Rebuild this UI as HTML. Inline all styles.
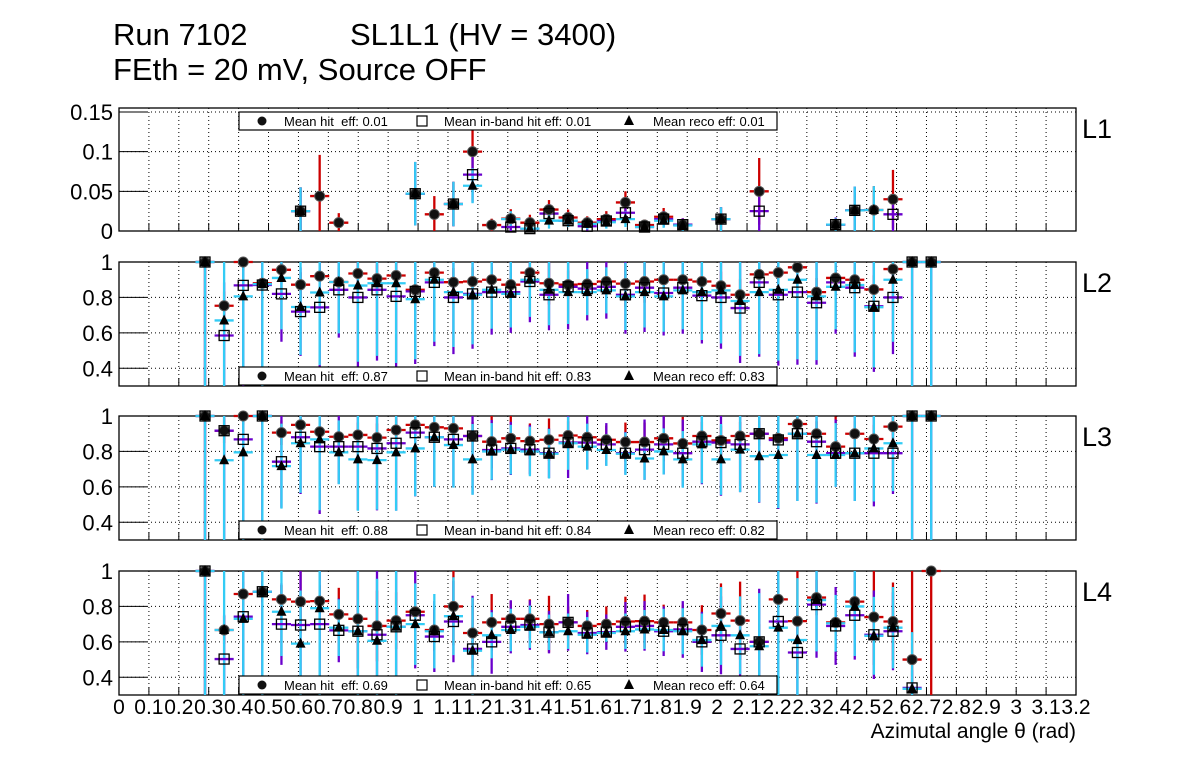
<!DOCTYPE html>
<html><head><meta charset="utf-8"><style>
html,body{margin:0;padding:0;background:#fff;}
svg{display:block;font-family:"Liberation Sans",sans-serif;}
</style></head><body>
<svg id="chart" width="1196" height="772" viewBox="0 0 1196 772" xmlns="http://www.w3.org/2000/svg">
<rect x="0" y="0" width="1196" height="772" fill="#fff"/>
<text x="113" y="45" font-size="31">Run 7102</text>
<text x="350" y="45" font-size="31">SL1L1 (HV = 3400)</text>
<text x="113" y="80" font-size="31">FEth = 20 mV, Source OFF</text>
<text x="1076" y="738" font-size="21" text-anchor="end">Azimutal angle θ (rad)</text>
</svg>
<script>
// bins (categories): first bin centre and bin width in rad
const firstCenter = 0.2876;
const binWidth = 0.0639;
const xTicks = ["0","0.1","0.2","0.3","0.4","0.5","0.6","0.7","0.8","0.9","1","1.1","1.2","1.3","1.4","1.5","1.6","1.7","1.8","1.9","2","2.1","2.2","2.3","2.4","2.5","2.6","2.7","2.8","2.9","3","3.1","3.2"];
const N = null;
// ---- L1 ----
const l1Hit   = [N,N,N,N,N,0.025,0.044,0.0105,N,N,N,0.047,0.021,0.034,0.1,0.0075,0.0155,0.0105,0.027,0.017,0.0105,0.015,0.036,0.0075,0.018,0.008,N,0.015,N,0.05,N,N,N,0.008,0.026,0.0265,0.04,N,N];
const l1HitErr= [N,N,N,N,N,0.03,0.052,0.012,N,N,N,0.04,0.023,0.028,0.03,0.008,0.012,0.01,0.012,0.01,0.008,0.01,0.014,0.007,0.011,0.008,N,0.015,N,0.042,N,N,N,0.008,0.03,0.03,0.037,N,N];
const l1Ib    = [N,N,N,N,N,0.025,N,N,N,N,N,0.047,N,0.034,0.071,N,0.005,0.003,0.022,0.013,0.006,0.0126,0.023,0.005,0.015,0.008,N,0.015,N,0.025,N,N,N,0.008,0.026,N,0.021,N,N];
const l1IbErr = [N,N,N,N,N,0.03,N,N,N,N,N,0.04,N,0.028,0.035,N,0.008,0.005,0.012,0.008,0.006,0.008,0.012,0.005,0.01,0.008,N,0.015,N,0.03,N,N,N,0.009,0.03,N,0.022,N,N];
const l1Reco  = [N,N,N,N,N,0.025,N,N,N,N,N,0.047,N,0.034,0.057,N,0.015,0.003,0.013,0.013,0.009,0.011,0.015,0.005,0.013,0.007,N,0.015,N,N,N,N,N,0.008,0.026,0.0265,N,N,N];
const l1RecoErr=[N,N,N,N,N,0.03,N,N,N,N,N,0.04,N,0.028,0.022,N,0.01,0.006,0.01,0.008,0.007,0.008,0.01,0.006,0.009,0.007,N,0.015,N,N,N,N,N,0.008,0.03,0.03,N,N,N];
// ---- L2 ----
const l2Hit   = [1,0.753,1,0.88,0.956,0.872,0.92,0.887,0.935,0.906,0.924,0.843,0.94,0.886,0.89,0.9,0.872,0.94,0.88,0.872,0.876,0.89,0.878,0.89,0.9,0.9,0.89,0.866,0.815,0.93,0.94,0.97,0.83,0.91,0.9,0.845,0.96,1,1];
const l2HitErr= [0.7,0.08,0.05,0.06,0.05,0.07,0.07,0.08,0.07,0.08,0.07,0.09,0.06,0.08,0.08,0.07,0.07,0.06,0.12,0.08,0.07,0.07,0.13,0.12,0.12,0.07,0.08,0.08,0.09,0.07,0.06,0.03,0.08,0.07,0.07,0.08,0.04,0.02,0.02];
const l2Ib    = [1,0.585,0.868,0.87,0.82,0.72,0.744,0.843,0.8,0.843,0.806,0.834,0.885,0.8,0.82,0.83,0.83,0.89,0.815,0.86,0.85,0.86,0.815,0.855,0.825,0.855,0.81,0.8,0.74,0.885,0.815,0.83,0.77,0.885,0.855,0.75,0.8,1,1];
const l2IbErr = [0.7,0.3,0.6,0.6,0.27,0.25,0.37,0.27,0.41,0.4,0.41,0.41,0.36,0.32,0.31,0.24,0.23,0.23,0.2,0.24,0.18,0.18,0.22,0.25,0.24,0.26,0.27,0.29,0.31,0.42,0.4,0.41,0.35,0.29,0.39,0.37,0.32,0.7,0.7];
const l2Reco  = [1,0.67,0.806,0.875,0.91,0.746,0.828,0.887,0.867,0.88,0.88,0.79,0.9,0.83,0.815,0.843,0.82,0.9,0.843,0.83,0.83,0.84,0.806,0.83,0.806,0.84,0.83,0.84,0.78,0.83,0.843,0.9,0.806,0.86,0.87,0.745,0.9,1,1];
const l2RecoErr=[0.7,0.37,0.5,0.58,0.29,0.27,0.41,0.29,0.43,0.41,0.45,0.34,0.35,0.31,0.28,0.22,0.19,0.21,0.2,0.18,0.13,0.13,0.19,0.2,0.2,0.22,0.27,0.3,0.31,0.35,0.4,0.45,0.36,0.24,0.38,0.34,0.35,0.7,0.7];
// ---- L3 ----
const l3Hit   = [1,0.917,1,1,0.906,0.95,0.911,0.883,0.893,0.878,0.921,0.95,0.936,0.93,0.887,0.855,0.874,0.858,0.866,0.89,0.88,0.866,0.853,0.853,0.874,0.845,0.887,0.862,0.887,0.9,0.874,0.955,0.9,0.827,0.9,0.87,0.94,1,1];
const l3HitErr= [0.7,0.07,0.05,0.05,0.07,0.06,0.07,0.08,0.07,0.08,0.07,0.05,0.06,0.06,0.08,0.15,0.13,0.1,0.12,0.08,0.08,0.08,0.11,0.11,0.13,0.15,0.08,0.08,0.08,0.07,0.08,0.04,0.07,0.17,0.07,0.08,0.05,0.02,0.02];
const l3Ib    = [1,0.917,0.868,1,0.742,0.88,0.827,0.827,0.827,0.817,0.846,0.906,0.88,0.868,0.887,0.808,0.817,0.81,0.79,0.85,0.85,0.84,0.79,0.81,0.84,0.79,0.855,0.85,0.84,0.9,0.865,0.9,0.855,0.79,0.79,0.79,0.79,1,1];
const l3IbErr = [0.7,0.62,0.57,0.7,0.26,0.32,0.38,0.21,0.36,0.35,0.38,0.36,0.28,0.27,0.33,0.17,0.15,0.14,0.14,0.2,0.15,0.12,0.12,0.17,0.17,0.19,0.24,0.3,0.27,0.39,0.39,0.38,0.35,0.19,0.27,0.3,0.23,0.7,0.7];
const l3Reco  = [1,0.75,0.795,1,0.717,0.846,0.868,0.795,0.755,0.751,0.795,0.817,0.88,0.836,0.755,0.8,0.81,0.8,0.787,0.846,0.827,0.808,0.787,0.76,0.8,0.755,0.84,0.755,0.81,0.773,0.78,0.9,0.78,0.78,0.79,0.817,0.846,1,1];
const l3RecoErr=[0.7,0.45,0.5,0.7,0.24,0.28,0.4,0.18,0.29,0.28,0.33,0.27,0.28,0.24,0.2,0.16,0.14,0.14,0.14,0.15,0.13,0.09,0.12,0.12,0.13,0.16,0.22,0.2,0.24,0.26,0.3,0.38,0.27,0.18,0.27,0.3,0.27,0.7,0.7];
// ---- L4 ----
const l4Hit   = [1,0.667,0.87,0.883,0.84,0.827,0.83,0.755,0.73,0.69,0.72,0.77,0.667,0.8,0.65,0.71,0.73,0.73,0.7,0.71,0.69,0.7,0.715,0.717,0.71,0.71,0.667,0.76,0.72,0.6,0.84,0.717,0.85,0.71,0.827,0.74,0.715,0.5,1];
const l4HitErr= [0.7,0.08,0.07,0.06,0.08,0.18,0.09,0.15,0.28,0.2,0.16,0.11,0.12,0.22,0.2,0.16,0.1,0.11,0.16,0.09,0.09,0.1,0.14,0.15,0.1,0.1,0.14,0.17,0.22,0.1,0.2,0.3,0.1,0.08,0.12,0.27,0.22,0.5,0.7];
const l4Ib    = [1,0.503,0.742,0.883,0.7,0.695,0.7,0.665,0.66,0.64,0.685,0.75,0.63,0.715,0.56,0.6,0.685,0.695,0.655,0.71,0.65,0.655,0.685,0.69,0.66,0.67,0.6,0.637,0.56,0.6,0.715,0.54,0.81,0.69,0.75,0.64,0.66,0.34,N];
const l4IbErr = [0.7,0.25,0.45,0.6,0.23,0.4,0.4,0.18,0.4,0.4,0.4,0.3,0.2,0.23,0.3,0.18,0.15,0.14,0.12,0.16,0.12,0.1,0.14,0.14,0.14,0.16,0.17,0.22,0.16,0.3,0.4,0.25,0.3,0.22,0.25,0.25,0.22,0.1,N];
const l4Reco  = [1,0.667,0.73,0.883,0.77,0.59,0.79,0.68,0.66,0.606,0.685,0.7,0.66,0.745,0.55,0.637,0.667,0.685,0.654,0.66,0.64,0.65,0.66,0.67,0.667,0.66,0.61,0.69,0.637,0.575,0.68,0.61,0.836,0.705,0.8,0.634,0.68,0.335,N];
const l4RecoErr=[0.7,0.4,0.45,0.6,0.25,0.3,0.5,0.16,0.4,0.35,0.4,0.23,0.21,0.22,0.3,0.13,0.12,0.12,0.1,0.1,0.1,0.05,0.1,0.11,0.12,0.13,0.15,0.22,0.22,0.3,0.4,0.35,0.29,0.16,0.28,0.22,0.23,0.32,N];

const legendHit  = ["0.01","0.87","0.88","0.69"];
const legendIb   = ["0.01","0.83","0.84","0.65"];
const legendReco = ["0.01","0.83","0.82","0.64"];

const panels = [
 {name:"L1", top:108, bottom:231, ymin:0, ymax:0.155, ticks:[0,0.05,0.1,0.15], labels:["0","0.05","0.1","0.15"], legY:112, hit:l1Hit, hitE:l1HitErr, ib:l1Ib, ibE:l1IbErr, reco:l1Reco, recoE:l1RecoErr},
 {name:"L2", top:262, bottom:386, ymin:0.3, ymax:1.0, ticks:[0.4,0.6,0.8,1], labels:["0.4","0.6","0.8","1"], legY:367, hit:l2Hit, hitE:l2HitErr, ib:l2Ib, ibE:l2IbErr, reco:l2Reco, recoE:l2RecoErr},
 {name:"L3", top:416, bottom:540, ymin:0.3, ymax:1.0, ticks:[0.4,0.6,0.8,1], labels:["0.4","0.6","0.8","1"], legY:521, hit:l3Hit, hitE:l3HitErr, ib:l3Ib, ibE:l3IbErr, reco:l3Reco, recoE:l3RecoErr},
 {name:"L4", top:571, bottom:695, ymin:0.3, ymax:1.0, ticks:[0.4,0.6,0.8,1], labels:["0.4","0.6","0.8","1"], legY:676, hit:l4Hit, hitE:l4HitErr, ib:l4Ib, ibE:l4IbErr, reco:l4Reco, recoE:l4RecoErr}
];

const svg = document.getElementById('chart');
const NS = "http://www.w3.org/2000/svg";
const X0 = 119, X1 = 1076, XMAX = 3.2;
function xs(v){ return X0 + v/XMAX*(X1-X0); }
function mk(tag, attrs, parent){
  const e = document.createElementNS(NS, tag);
  for (const k in attrs) e.setAttribute(k, attrs[k]);
  (parent||svg).appendChild(e);
  return e;
}
const RED="#cc0000", PUR="#6a00cc", CYA="#33ccf5";

panels.forEach((p, pi) => {
  const ys = v => p.bottom - (v - p.ymin)/(p.ymax - p.ymin)*(p.bottom - p.top);
  const clampY = v => Math.max(p.top, Math.min(p.bottom, ys(v)));
  const g = mk('g', {});
  
  
  for (let i = 1; i < xTicks.length - 1; i++) {
    const x = xs(i*0.1);
    const l = mk('line', {x1:x, x2:x, y1:p.top, y2:p.bottom, stroke:"#000", "stroke-width":1, "stroke-dasharray":"1,3"}, g);
    
    
    const t = mk('line', {x1:x, x2:x, y1:p.bottom, y2:p.bottom-8, stroke:"#000", "stroke-width":1}, g);
    
    
  }
  p.ticks.forEach((tv, ti) => {
    const y = ys(tv);
    if (y > p.top + 1 && y < p.bottom - 1) {
      const l = mk('line', {x1:X0, x2:X1, y1:y, y2:y, stroke:"#000", "stroke-width":1, "stroke-dasharray":"1,3"}, g);
      
      
    }
    const t = mk('line', {x1:X0, x2:X0+28, y1:y, y2:y, stroke:"#000", "stroke-width":1}, g);
    
    
    const lab = mk('text', {x:113, y:y+8, "font-size":22, "text-anchor":"end"}, g);
    lab.textContent = p.labels[ti];
    
    
  });
  const fr = mk('rect', {x:X0, y:p.top, width:X1-X0, height:p.bottom-p.top, fill:"none", stroke:"#000", "stroke-width":1.3}, g);
  
  
  const ll = mk('text', {x:1082, y:p.top+30, "font-size":27}, g);
  ll.textContent = p.name;
  
  

  const series = [
    {vals:p.hit, errs:p.hitE, col:RED, name:"hit"},
    {vals:p.ib, errs:p.ibE, col:PUR, name:"inband"},
    {vals:p.reco, errs:p.recoE, col:CYA, name:"reco"}
  ];
  const dg = mk('g', {}, g);
  
  
  series.forEach(s => {
    s.vals.forEach((v, k) => {
      if (v === null) return;
      const c = firstCenter + binWidth*k;
      const e = s.errs[k] || 0;
      const vl = mk('line', {x1:xs(c), x2:xs(c), y1:clampY(v+e), y2:clampY(v-e), stroke:s.col, "stroke-width":2.3}, dg);
      
      
    });
  });
  series.forEach(s => {
    s.vals.forEach((v, k) => {
      if (v === null) return;
      const c = firstCenter + binWidth*k;
      const hl = mk('line', {x1:xs(c-binWidth/2), x2:xs(c+binWidth/2), y1:ys(v), y2:ys(v), stroke:s.col, "stroke-width":2.3}, dg);
      
      
    });
  });
  p.hit.forEach((v, k) => {
    if (v === null) return;
    const c = mk('circle', {cx:xs(firstCenter+binWidth*k), cy:ys(v), r:5, fill:"#111", stroke:"#555", "stroke-width":1}, g);
    
    
  });
  p.ib.forEach((v, k) => {
    if (v === null) return;
    const x = xs(firstCenter+binWidth*k), y = ys(v);
    const r = mk('rect', {x:x-5, y:y-5, width:10, height:10, fill:"none", stroke:"#000", "stroke-width":1.3}, g);
    
    
  });
  p.reco.forEach((v, k) => {
    if (v === null) return;
    const x = xs(firstCenter+binWidth*k), y = ys(v);
    const t = mk('polygon', {points:`${x-5},${y+4} ${x+5},${y+4} ${x},${y-6}`, fill:"#000"}, g);
    
    
  });
  const lg = mk('g', {}, g);
  
  
  const ly = p.legY;
  mk('rect', {x:239, y:ly, width:538, height:18, fill:"#fff", stroke:"#000", "stroke-width":1.2}, lg);
  const mid = ly + 9;
  const e1 = mk('circle', {cx:262, cy:mid, r:4.5, fill:"#111"}, lg);
  
  
  const t1 = mk('text', {x:284, y:mid+5, "font-size":13}, lg);
  t1.textContent = "Mean hit  eff: " + legendHit[pi];
  
  
  t1.style.whiteSpace = 'pre';
  const e2 = mk('rect', {x:417, y:mid-5, width:10, height:10, fill:"none", stroke:"#000", "stroke-width":1.2}, lg);
  
  
  const t2 = mk('text', {x:444, y:mid+5, "font-size":13}, lg);
  t2.textContent = "Mean in-band hit eff: " + legendIb[pi];
  
  
  const e3 = mk('polygon', {points:`${624},${mid+4} ${634},${mid+4} ${629},${mid-6}`, fill:"#000"}, lg);
  
  
  const t3 = mk('text', {x:653, y:mid+5, "font-size":13}, lg);
  t3.textContent = "Mean reco eff: " + legendReco[pi];
  
  
});

xTicks.forEach((lab, i) => {
  const t = mk('text', {x:xs(i*0.1), y:714, "font-size":21, "text-anchor":"middle"});
  t.textContent = lab;
  
  
});
</script>
</body></html>
